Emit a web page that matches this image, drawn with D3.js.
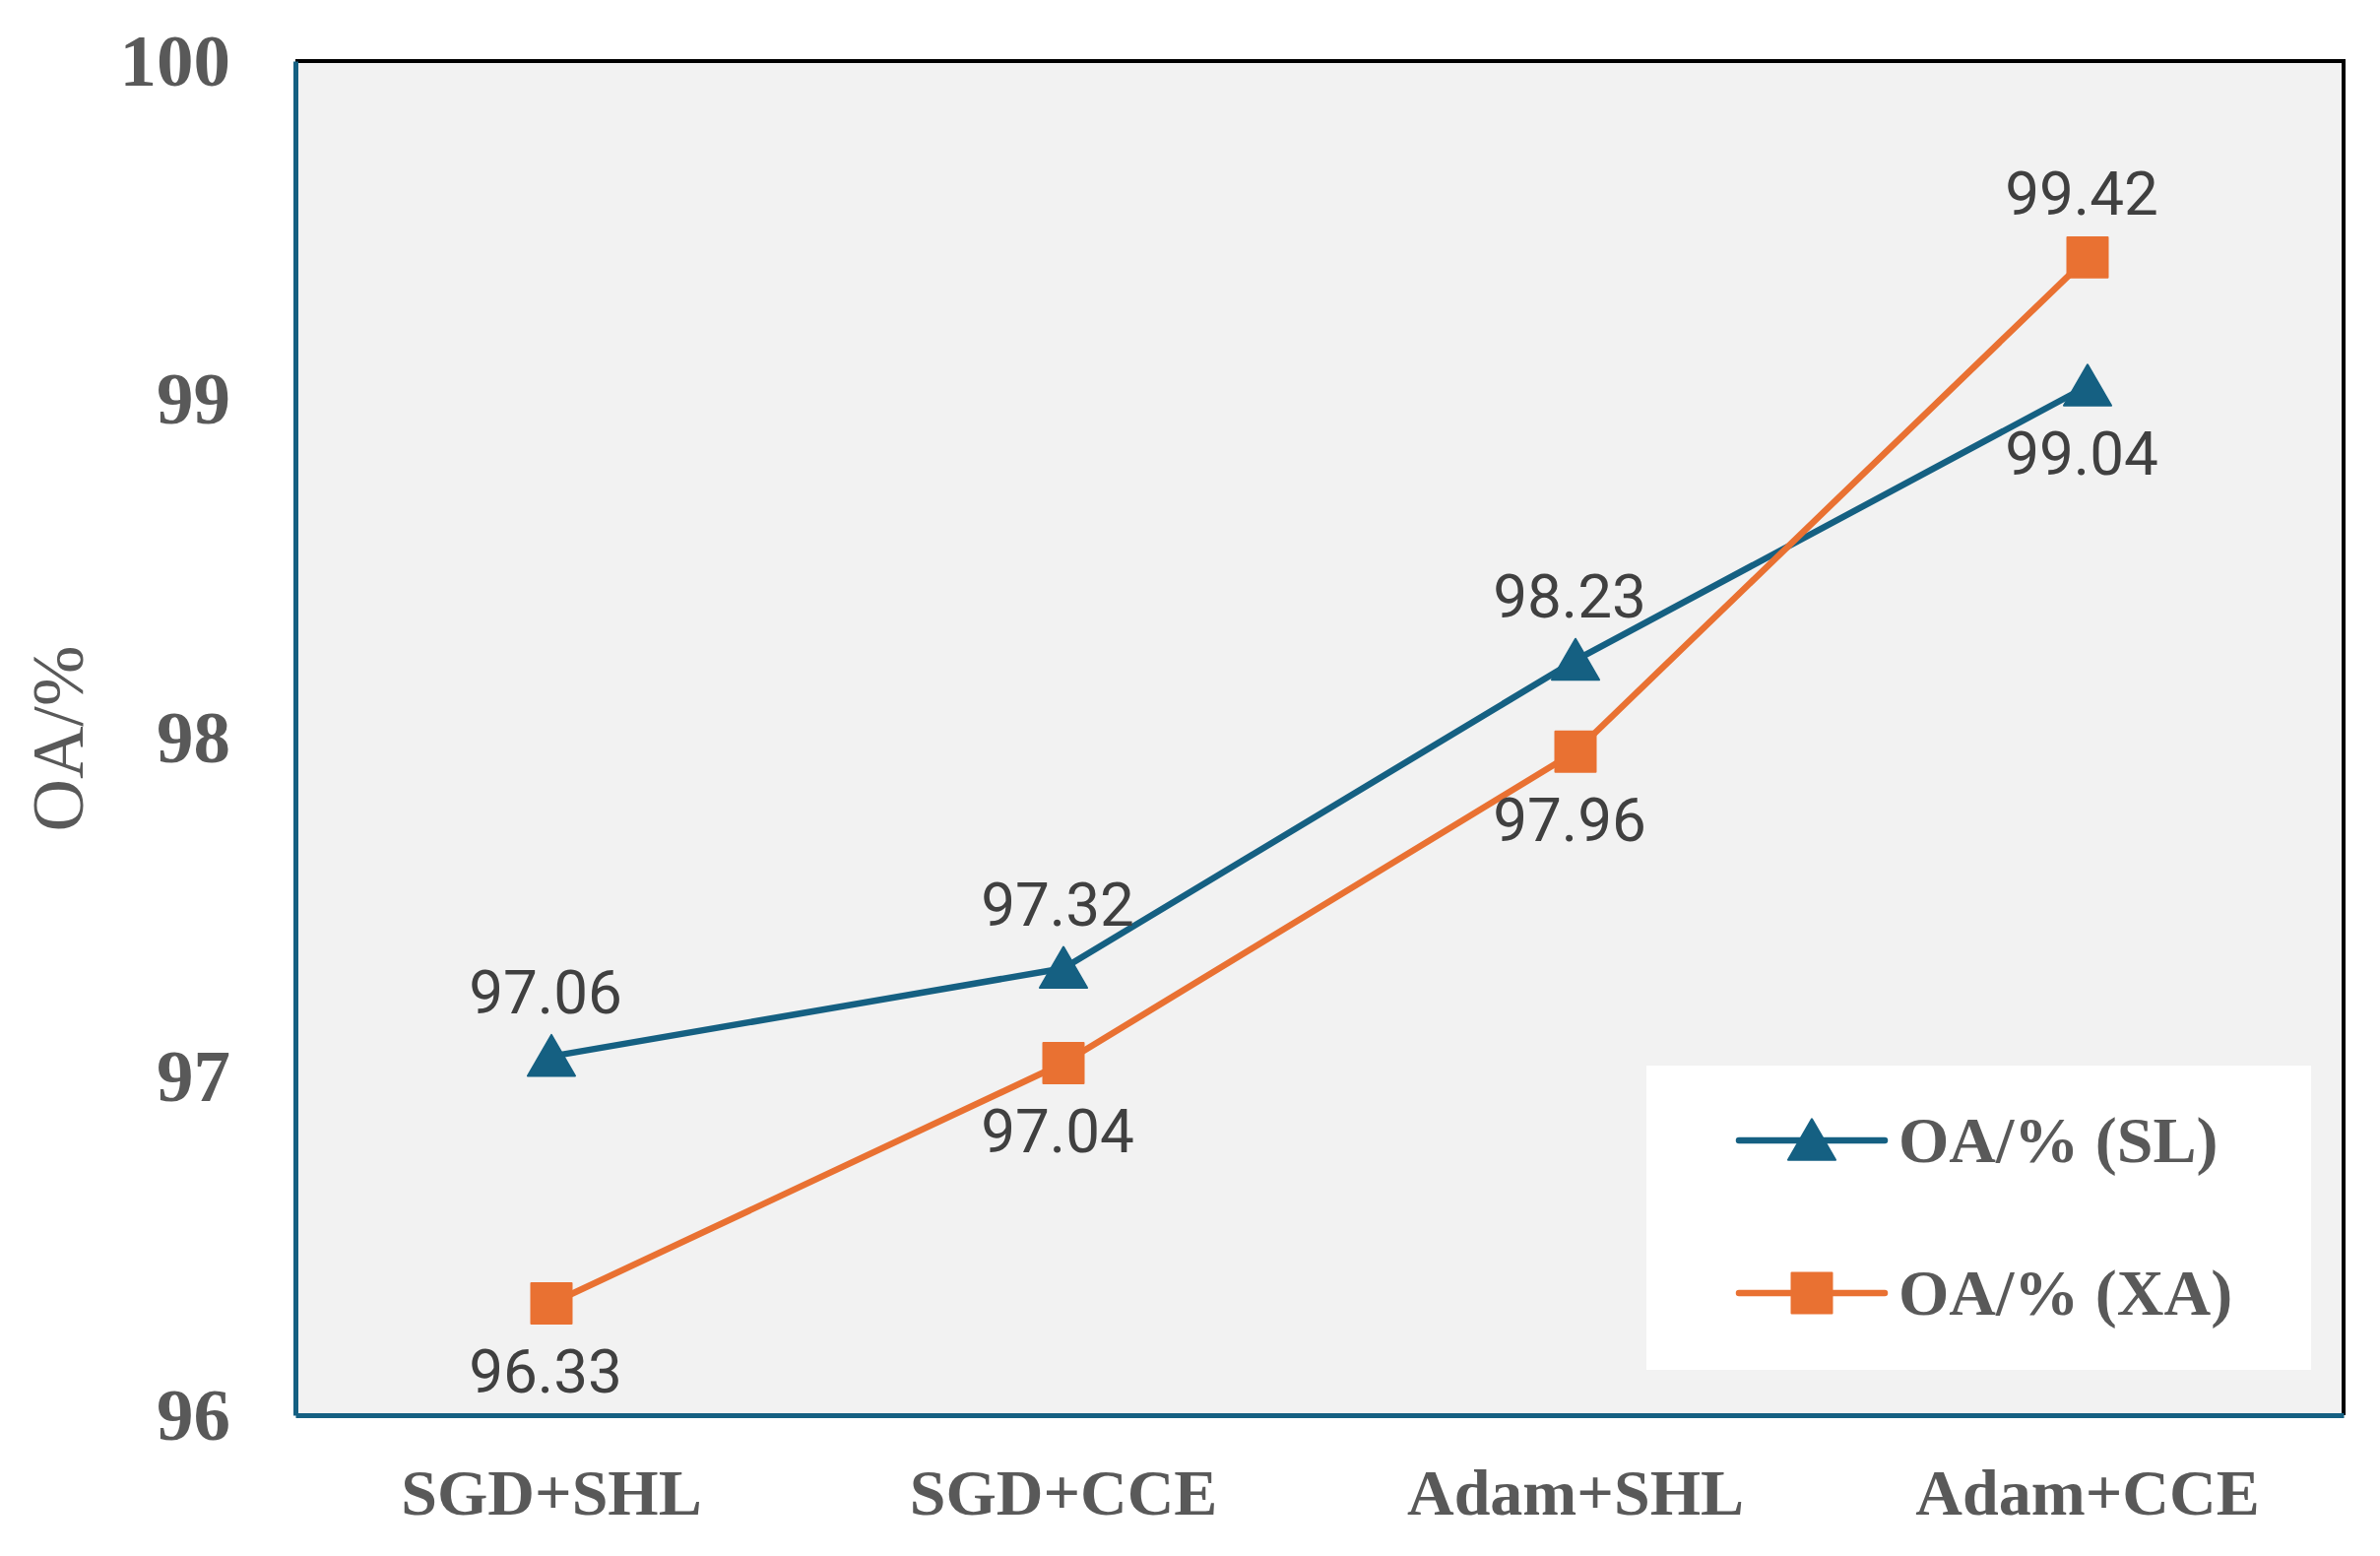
<!DOCTYPE html>
<html>
<head>
<meta charset="utf-8">
<script src="https://cdn.jsdelivr.net/npm/d3@7"></script>
<style>
  body { margin: 0; background: #fff; }
</style>
</head>
<body>
<svg class="main"></svg>
<script>
let categories = ['SGD+SHL', 'SGD+CCE', 'Adam+SHL', 'Adam+CCE'],
    slValues = [97.06, 97.32, 98.23, 99.04],
    xaValues = [96.33, 97.04, 97.96, 99.42],
    seriesNames = ['OA/% (SL)', 'OA/% (XA)'],
    yTicks = [96, 97, 98, 99, 100];

let w = 2417, h = 1580;
let plotL = 300, plotR = 2380, plotT = 62, plotB = 1437;

let blue = '#156082', orange = '#E97132', grey = '#595959';

let svg = d3.select('.main')
    .attr('width', w)
    .attr('height', h);

let x = d3.scaleBand().domain(categories).range([plotL, plotR]);
let y = d3.scaleLinear().domain([96, 100]).range([plotB, plotT]);

// plot area
svg.append('rect')
    .attr('x', plotL).attr('y', plotT)
    .attr('width', plotR - plotL).attr('height', plotB - plotT)
    .attr('fill', '#F2F2F2');

// top + right border in black
svg.append('path')
    .attr('d', `M${plotL},${plotT}H${plotR}V${plotB}`)
    .attr('fill', 'none')
    .attr('stroke', '#000')
    .attr('stroke-width', 4);

// y axis
let yAxis = svg.append('g')
    .attr('transform', `translate(${plotL},0)`)
    .call(d3.axisLeft(y).tickValues(yTicks).tickSize(0).tickPadding(66).tickFormat(d3.format('d')));
yAxis.select('.domain').attr('stroke', blue).attr('stroke-width', 5);
yAxis.selectAll('text')
    .attr('font-family', '"Liberation Serif", "Times New Roman", serif')
    .attr('font-weight', 'bold')
    .attr('font-size', 75)
    .attr('fill', grey);

// x axis
let xAxis = svg.append('g')
    .attr('transform', `translate(0,${plotB})`)
    .call(d3.axisBottom(x).tickSize(0).tickPadding(54));
xAxis.select('.domain').attr('stroke', blue).attr('stroke-width', 5);
xAxis.selectAll('text')
    .attr('font-family', '"Liberation Serif", "Times New Roman", serif')
    .attr('font-weight', 'bold')
    .attr('font-size', 66)
    .attr('fill', grey);

// y title
svg.append('text')
    .attr('transform', `translate(84,750) rotate(-90)`)
    .attr('text-anchor', 'middle')
    .attr('font-family', '"Liberation Serif", "Times New Roman", serif')
    .attr('font-size', 74)
    .attr('fill', grey)
    .text('OA/%');

let cx = d => x(d) + x.bandwidth() / 2;

let series = [
    { name: seriesNames[0], values: slValues, color: blue, shape: d3.symbolTriangle },
    { name: seriesNames[1], values: xaValues, color: orange, shape: d3.symbolSquare }
];

let line = d3.line().x((d, i) => cx(categories[i])).y(d => y(d));
let symSize = shape => shape === d3.symbolSquare ? 1680 : 1000;
let symShift = shape => shape === d3.symbolTriangle ? 6 : 0;

series.forEach(s => {
    svg.append('path')
        .attr('d', line(s.values))
        .attr('fill', 'none')
        .attr('stroke', s.color)
        .attr('stroke-width', 6.5)
        .attr('stroke-linejoin', 'round');
});

series.forEach(s => {
    svg.selectAll(null)
        .data(s.values)
        .enter()
        .append('path')
        .attr('d', d3.symbol().type(s.shape).size(symSize(s.shape)))
        .attr('transform', (d, i) => `translate(${cx(categories[i])},${y(d) + symShift(s.shape)})`)
        .attr('fill', s.color)
        .attr('stroke', s.color)
        .attr('stroke-width', 2)
        .attr('stroke-linejoin', 'round');

    // higher series gets the label above the point, lower one below
    svg.selectAll(null)
        .data(s.values)
        .enter()
        .append('text')
        .attr('x', (d, i) => cx(categories[i]) - 6)
        .attr('y', (d, i) => {
            let isTop = d >= d3.max(series, o => o.values[i]);
            return y(d) + (isTop ? -66 : 68);
        })
        .attr('dy', '0.36em')
        .attr('text-anchor', 'middle')
        .attr('font-family', 'Roboto, sans-serif')
        .attr('font-weight', 400)
        .attr('font-size', 62)
        .attr('fill', '#404040')
        .text(d => d.toFixed(2));
});

// legend
let legend = svg.append('g');
legend.append('rect')
    .attr('x', 1672).attr('y', 1082)
    .attr('width', 675).attr('height', 309)
    .attr('fill', '#fff');

series.forEach((s, i) => {
    let ly = 1158 + i * 155;
    legend.append('line')
        .attr('x1', 1766).attr('x2', 1914)
        .attr('y1', ly).attr('y2', ly)
        .attr('stroke', s.color)
        .attr('stroke-width', 6.5)
        .attr('stroke-linecap', 'round');
    legend.append('path')
        .attr('d', d3.symbol().type(s.shape).size(symSize(s.shape)))
        .attr('transform', `translate(1840,${ly + symShift(s.shape)})`)
        .attr('fill', s.color)
        .attr('stroke', s.color)
        .attr('stroke-width', 2)
        .attr('stroke-linejoin', 'round');
    legend.append('text')
        .attr('x', 1928)
        .attr('y', ly)
        .attr('dy', '0.34em')
        .attr('font-family', '"Liberation Serif", "Times New Roman", serif')
        .attr('font-weight', 'bold')
        .attr('font-size', 66)
        .attr('fill', grey)
        .text(s.name);
});
</script>
</body>
</html>
